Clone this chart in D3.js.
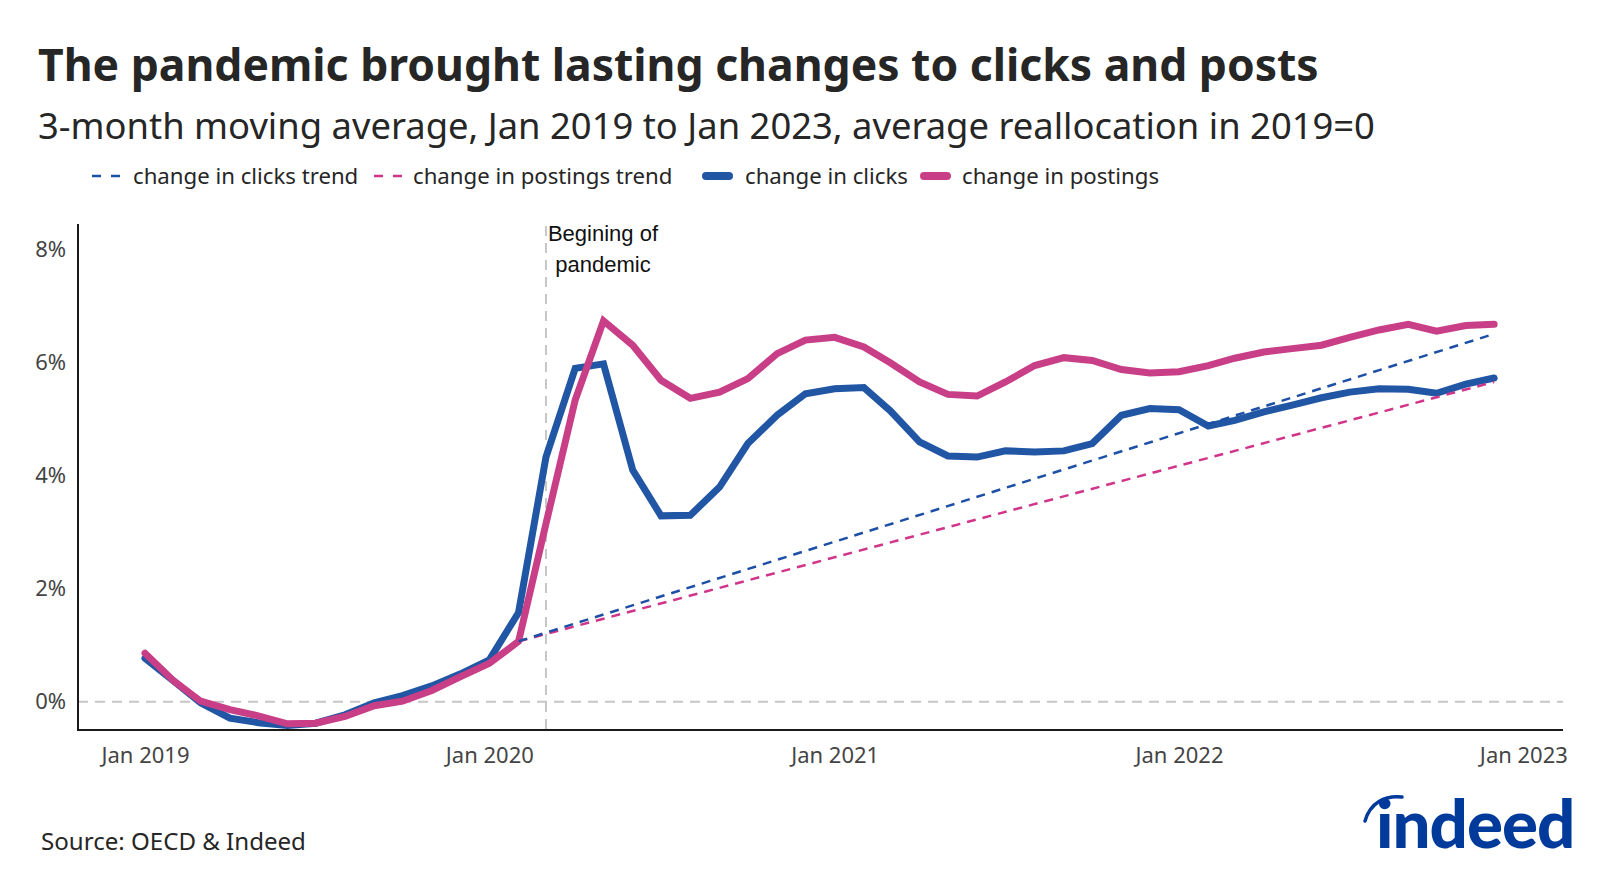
<!DOCTYPE html>
<html>
<head>
<meta charset="utf-8">
<script src="https://cdn.jsdelivr.net/npm/d3@7"></script>
<style>
  html, body { margin: 0; padding: 0; background: #fff; }
  svg { display: block; }
</style>
</head>
<body>
<svg id="chart" width="1600" height="873"></svg>
<script>
// ---------------- data ----------------
const months = ["2019-01","2019-02","2019-03","2019-04","2019-05","2019-06","2019-07","2019-08","2019-09","2019-10","2019-11","2019-12",
  "2020-01","2020-02","2020-03","2020-04","2020-05","2020-06","2020-07","2020-08","2020-09","2020-10","2020-11","2020-12",
  "2021-01","2021-02","2021-03","2021-04","2021-05","2021-06","2021-07","2021-08","2021-09","2021-10","2021-11","2021-12",
  "2022-01","2022-02","2022-03","2022-04","2022-05","2022-06","2022-07","2022-08","2022-09","2022-10","2022-11","2022-12"];
const changeInClicks = [0.77,0.36,-0.02,-0.29,-0.37,-0.42,-0.38,-0.23,-0.02,0.11,0.28,0.49,
  0.74,1.58,4.33,5.90,5.98,4.10,3.29,3.30,3.80,4.57,5.07,5.45,
  5.54,5.56,5.15,4.60,4.35,4.33,4.44,4.42,4.44,4.57,5.07,5.19,
  5.17,4.88,4.98,5.13,5.25,5.38,5.48,5.54,5.53,5.46,5.62,5.73];
const changeInPostings = [0.86,0.36,0.01,-0.14,-0.25,-0.39,-0.38,-0.26,-0.07,0.01,0.20,0.44,
  0.68,1.07,3.15,5.34,6.74,6.31,5.69,5.37,5.48,5.72,6.16,6.40,
  6.45,6.28,6.00,5.66,5.44,5.41,5.66,5.95,6.09,6.04,5.88,5.82,
  5.84,5.95,6.08,6.19,6.25,6.31,6.45,6.58,6.68,6.56,6.66,6.68];
const clicksTrendMonths = ["2020-02","2022-12"];
const clicksTrendValues = [1.07, 6.51];
const postingsTrendMonths = ["2020-02","2022-12"];
const postingsTrendValues = [1.07, 5.66];
const yTicks = [0, 2, 4, 6, 8];
const xTickDates = ["2019-01","2020-01","2021-01","2022-01","2023-01"];
const xTickLabels = ["Jan 2019","Jan 2020","Jan 2021","Jan 2022","Jan 2023"];
const pandemicStart = "2020-03";
const legendLabels = ["change in clicks trend","change in postings trend","change in clicks","change in postings"];

// ---------------- setup ----------------
const BLUE = "#2156a5", PINK = "#c83f87";
const BLUE_D = "#1d4fa6", PINK_D = "#d0358a";
const parse = d3.timeParse("%Y-%m");
const svg = d3.select("#chart");
const FONT = "'Noto Sans', 'Open Sans', sans-serif";

const x = d3.scaleTime()
  .domain([new Date(2018, 9, 22), new Date(2023, 1, 12)])
  .range([78, 1563]);
const y = d3.scaleLinear().domain([-0.5, 8.42]).range([730, 226]);

// titles
function fit(sel, target) {
  const w = sel.node().getComputedTextLength();
  const fs = parseFloat(sel.attr("font-size"));
  sel.attr("font-size", (fs * target / w).toFixed(2));
}
const title = svg.append("text").attr("x", 38).attr("y", 81)
  .attr("font-family", FONT).attr("font-weight", 700).attr("font-size", 42)
  .attr("fill", "#262626")
  .text("The pandemic brought lasting changes to clicks and posts");
fit(title, 1281);
const sub = svg.append("text").attr("x", 38).attr("y", 139)
  .attr("font-family", FONT).attr("font-size", 34).attr("fill", "#262626")
  .text("3-month moving average, Jan 2019 to Jan 2023, average reallocation in 2019=0");
fit(sub, 1337);

// legend
const legendItems = [
  {label: legendLabels[0], color: BLUE_D, dashed: true,  x: 92, tx: 133},
  {label: legendLabels[1], color: PINK_D, dashed: true,  x: 374, tx: 413},
  {label: legendLabels[2], color: BLUE,   dashed: false, x: 702, tx: 745},
  {label: legendLabels[3], color: PINK,   dashed: false, x: 920, tx: 962}
];
const lg = svg.append("g");
legendItems.forEach(it => {
  if (it.dashed) {
    lg.append("line").attr("x1", it.x).attr("x2", it.x + 28).attr("y1", 176).attr("y2", 176)
      .attr("stroke", it.color).attr("stroke-width", 2.5).attr("stroke-dasharray", "9 10");
  } else {
    lg.append("line").attr("x1", it.x + 4).attr("x2", it.x + 27).attr("y1", 176).attr("y2", 176)
      .attr("stroke", it.color).attr("stroke-width", 8).attr("stroke-linecap", "round");
  }
  lg.append("text").attr("x", it.tx).attr("y", 184)
    .attr("font-family", FONT).attr("font-size", 22.2).attr("fill", "#262626").text(it.label);
});

// zero reference line
svg.append("line").attr("x1", 78).attr("x2", 1563).attr("y1", y(0)).attr("y2", y(0))
  .attr("stroke", "#c6c6c6").attr("stroke-width", 2).attr("stroke-dasharray", "10 7");

// pandemic line
const px = x(parse(pandemicStart));
svg.append("line").attr("x1", px).attr("x2", px).attr("y1", 226).attr("y2", 730)
  .attr("stroke", "#c6c6c6").attr("stroke-width", 2).attr("stroke-dasharray", "10 7");
const ann = svg.append("text").attr("font-family", "'Liberation Sans', Arial, sans-serif")
  .attr("font-size", 22).attr("fill", "#111").attr("text-anchor", "middle");
ann.append("tspan").attr("x", px + 57).attr("y", 241).text("Begining of");
ann.append("tspan").attr("x", px + 57).attr("y", 272).text("pandemic");

// axes
const yAxis = svg.append("g").attr("transform", "translate(78,0)")
  .call(d3.axisLeft(y).tickValues(yTicks).tickSize(0).tickPadding(12).tickFormat(d => d + "%"));
yAxis.select(".domain").remove();
yAxis.selectAll("text").attr("font-family", FONT).attr("font-size", 22).attr("fill", "#444");

const xAxis = svg.append("g").attr("transform", "translate(0,730)")
  .call(d3.axisBottom(x).tickValues(xTickDates.map(parse)).tickSize(0).tickPadding(17)
    .tickFormat((d, i) => xTickLabels[i]));
xAxis.select(".domain").remove();
xAxis.selectAll("text").attr("font-family", FONT).attr("font-size", 22).attr("fill", "#444");

svg.append("line").attr("x1", 78).attr("x2", 78).attr("y1", 224).attr("y2", 731)
  .attr("stroke", "#1a1a1a").attr("stroke-width", 2);
svg.append("line").attr("x1", 77).attr("x2", 1563).attr("y1", 730).attr("y2", 730)
  .attr("stroke", "#1a1a1a").attr("stroke-width", 2);

// series
const line = d3.line().x(d => x(d.date)).y(d => y(d.v));
const clicksData = months.map((m, i) => ({date: parse(m), v: changeInClicks[i]}));
const postingsData = months.map((m, i) => ({date: parse(m), v: changeInPostings[i]}));
const clicksTrend = clicksTrendMonths.map((m, i) => ({date: parse(m), v: clicksTrendValues[i]}));
const postingsTrend = postingsTrendMonths.map((m, i) => ({date: parse(m), v: postingsTrendValues[i]}));

svg.append("path").datum(clicksData).attr("d", line).attr("fill", "none")
  .attr("stroke", BLUE).attr("stroke-width", 7).attr("stroke-linecap", "round");
svg.append("path").datum(postingsData).attr("d", line).attr("fill", "none")
  .attr("stroke", PINK).attr("stroke-width", 7).attr("stroke-linecap", "round");
svg.append("path").datum(postingsTrend).attr("d", line).attr("fill", "none")
  .attr("stroke", PINK_D).attr("stroke-width", 2.5).attr("stroke-dasharray", "9 7");
svg.append("path").datum(clicksTrend).attr("d", line).attr("fill", "none")
  .attr("stroke", BLUE_D).attr("stroke-width", 2.5).attr("stroke-dasharray", "9 7");

// source
const src = svg.append("text").attr("x", 41).attr("y", 850)
  .attr("font-family", FONT).attr("font-size", 24).attr("fill", "#262626")
  .text("Source: OECD & Indeed");
fit(src, 265);

// logo
const logo = svg.append("g");
logo.append("path").attr("d", "M1365,821 C1370,803 1385,795 1402,797")
  .attr("fill", "none").attr("stroke", "#003A9B").attr("stroke-width", 3.5).attr("stroke-linecap", "round");
const lt = logo.append("text").attr("x", 1376).attr("y", 848)
  .attr("font-family", "Lato, 'Noto Sans', sans-serif").attr("font-weight", 900)
  .attr("font-size", 64).attr("fill", "#003A9B").attr("letter-spacing", -1).text("indeed");
fit(lt, 198);
</script>
</body>
</html>
